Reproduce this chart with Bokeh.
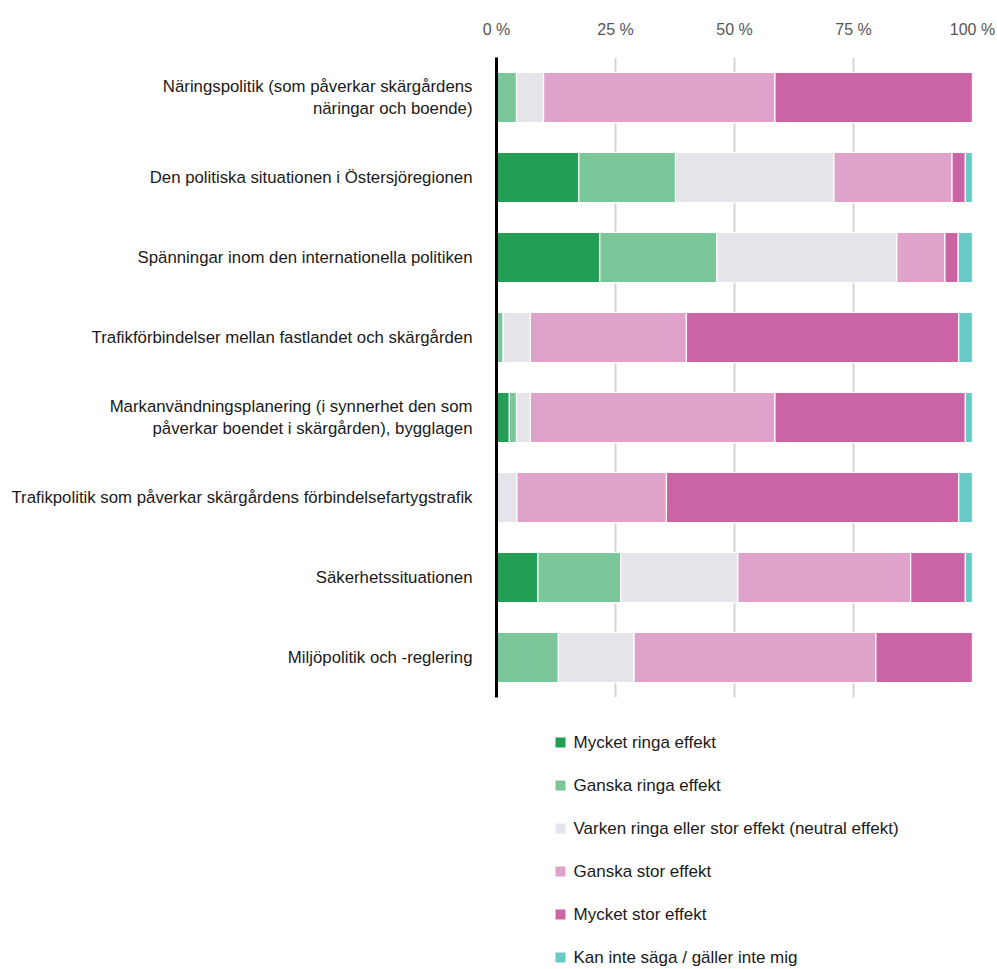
from bokeh.plotting import figure
from bokeh.layouts import column
from bokeh.models import FactorRange, Range1d, FixedTicker, ColumnDataSource
from bokeh.core.properties import value
from bokeh.embed import file_html
from bokeh.resources import INLINE

categories = [
    "Näringspolitik (som påverkar skärgårdens\nnäringar och boende)",
    "Den politiska situationen i Östersjöregionen",
    "Spänningar inom den internationella politiken",
    "Trafikförbindelser mellan fastlandet och skärgården",
    "Markanvändningsplanering (i synnerhet den som\npåverkar boendet i skärgården), bygglagen",
    "Trafikpolitik som påverkar skärgårdens förbindelsefartygstrafik",
    "Säkerhetssituationen",
    "Miljöpolitik och -reglering",
]
series_names = [
    "Mycket ringa effekt",
    "Ganska ringa effekt",
    "Varken ringa eller stor effekt (neutral effekt)",
    "Ganska stor effekt",
    "Mycket stor effekt",
    "Kan inte säga / gäller inte mig",
]
mycket_ringa = [0.0, 17.3, 21.7, 0.0, 2.7, 0.0, 8.7, 0.0]
ganska_ringa = [4.2, 20.3, 24.6, 1.4, 1.5, 0.0, 17.4, 13.0]
neutral = [5.7, 33.3, 37.8, 5.7, 2.9, 4.3, 24.6, 15.9]
ganska_stor = [48.6, 24.8, 10.1, 32.8, 51.4, 31.4, 36.3, 50.8]
mycket_stor = [41.5, 2.8, 2.8, 57.2, 40.0, 61.4, 11.5, 20.3]
kan_inte = [0.0, 1.5, 3.0, 2.9, 1.5, 2.9, 1.5, 0.0]
colors = ["#239e55", "#7cc799", "#e5e4ea", "#dfa2ca", "#ca64a5", "#69c9c5"]
x_ticks = [0, 25, 50, 75, 100]
x_tick_labels = ["0 %", "25 %", "50 %", "75 %", "100 %"]

keys = ["s0", "s1", "s2", "s3", "s4", "s5"]
source = ColumnDataSource(dict(
    cat=categories,
    s0=mycket_ringa, s1=ganska_ringa, s2=neutral,
    s3=ganska_stor, s4=mycket_stor, s5=kan_inte,
))

FONT = "Liberation Sans"
MAIN_H = 700
FRAME_L = 496
FRAME_R = 972

p = figure(
    width=997, height=MAIN_H,
    y_range=FactorRange(*list(reversed(categories))),
    x_range=Range1d(0, 100),
    x_axis_location="above",
    output_backend="svg", toolbar_location=None,
    min_border_left=FRAME_L, min_border_right=997 - FRAME_R,
    min_border_top=57, min_border_bottom=3,
)
p.outline_line_color = None
p.background_fill_color = "white"

p.hbar_stack(keys, y="cat", height=0.63, source=source,
             color=colors, line_color="white", line_width=1.2)

xa = p.xaxis[0]
xa.ticker = FixedTicker(ticks=x_ticks)
xa.major_label_overrides = {t: l for t, l in zip(x_ticks, x_tick_labels)}
xa.axis_line_color = None
xa.major_tick_line_color = None
xa.minor_tick_line_color = None
xa.major_label_text_font = FONT
xa.major_label_text_font_size = "16px"
xa.major_label_text_color = "#555555"
xa.major_label_standoff = 14

ya = p.yaxis[0]
ya.axis_line_color = "black"
ya.axis_line_width = 3
ya.major_tick_line_color = None
ya.minor_tick_line_color = None
ya.major_label_text_font = FONT
ya.major_label_text_font_size = "16.8px"
ya.major_label_text_color = "#1a1a1a"
ya.major_label_standoff = 18

p.ygrid.grid_line_color = None
p.xgrid.grid_line_color = "#d4d4d4"
p.xgrid.grid_line_width = 2

# legend drawn as its own small panel below the chart (frame aligned with main frame)
LEG_H = 969 - MAIN_H
lg = figure(width=997, height=LEG_H,
            x_range=Range1d(FRAME_L, FRAME_R), y_range=Range1d(LEG_H, 0),
            output_backend="svg", toolbar_location=None,
            min_border_left=FRAME_L, min_border_right=997 - FRAME_R,
            min_border_top=0, min_border_bottom=0)
lg.axis.visible = False
lg.grid.visible = False
lg.outline_line_color = None

n = len(series_names)
leg_src = ColumnDataSource(dict(
    name=series_names,
    color=colors,
    x=[560] * n,
    tx=[573] * n,
    y=[742 - MAIN_H + 43 * i for i in range(n)],
))
lg.rect(x="x", y="y", width=10, height=10, source=leg_src,
        fill_color="color", line_color=None)
lg.text(x="tx", y="y", text="name", source=leg_src,
        text_font=value(FONT), text_font_size="17px", text_color="#1a1a1a",
        text_baseline="middle", text_align="left")

open("out.html", "w").write(file_html(column(p, lg, spacing=0), INLINE))
